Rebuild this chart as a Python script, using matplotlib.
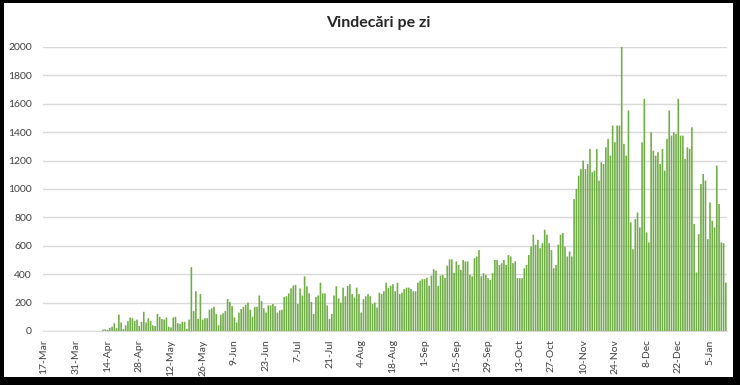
import numpy as np
import pandas as pd
import matplotlib
matplotlib.use("Agg")
import matplotlib.pyplot as plt
from matplotlib.patches import Rectangle

# vindecari zilnice, incepand cu 17-Mar
start_date = "2020-03-17"
before_apr = [0] * 26
apr_jun = [10, 12, 8, 22, 30, 55, 20, 115, 60, 15, 40, 70, 95, 90, 70, 80, 35, 65, 135, 60,
           90, 70, 40, 35, 120, 100, 85, 80, 95, 30, 25, 95, 100, 55, 50, 65, 65, 15, 80, 450,
           140, 280, 85, 260, 80, 90, 90, 150, 160, 170, 120, 40, 115, 125, 140, 225, 205, 175, 95, 60,
           130, 155, 170, 185, 200, 150, 100, 170, 170, 250, 210, 160, 130, 180]
jun_jul = [180, 190, 175, 130, 145, 150, 240, 245, 265, 300, 320, 325, 190, 300, 250, 385,
           315, 265, 205, 120, 240, 250, 340, 265, 265, 180, 85, 120, 250, 315, 230]
jul_sep = [200, 305, 245, 318, 330, 260, 235, 305, 260, 130, 225, 245, 260, 245, 190, 200, 165,
           270, 260, 280, 340, 305, 318, 330, 280, 340, 260, 270, 295, 305, 305, 295, 280, 280,
           340, 355, 365, 365, 375, 318, 390, 435, 425, 318, 390, 395, 375, 460, 505, 505]
sep_nov = [410, 490, 465, 430, 500, 490, 490, 395, 385, 513, 525, 570, 385, 407, 395, 372, 360,
           407, 500, 500, 465, 478, 500, 465, 535, 525, 478, 490, 372, 372, 372, 442, 465, 535,
           595, 678, 607, 642, 583, 618, 713, 678, 618, 570, 442, 465, 607, 678, 690, 595, 525,
           560, 525]
nov_jan = [929, 1000, 1094, 1141, 1200, 1141, 1176, 1282, 1118, 1129, 1282, 1059, 1188, 1176,
           1294, 1353, 1235, 1447, 1329, 1447, 1447, 2000, 1318, 1235, 1553, 765, 576, 788, 835,
           729, 1329, 1635, 694, 624, 1400, 1270, 1235, 1259, 1176, 1282, 1129, 1353, 1553, 1376,
           1400, 1388, 1635, 1376, 1376, 1212, 1294, 1282, 1435, 753, 412, 682, 1035, 1106, 1059,
           647, 906, 776, 729, 1165, 894, 624, 618, 341]

values = np.array(before_apr + apr_jun + jun_jul + jul_sep + sep_nov + nov_jan)
dates = pd.date_range(start_date, periods=len(values), freq="D")
labels = [f"{d.day}-{d.strftime('%b')}" for d in dates]
x = np.arange(len(values))

plt.rcParams["font.family"] = ["Lato", "DejaVu Sans"]

fig = plt.figure(figsize=(7.4, 3.85), dpi=100)
fig.patch.set_facecolor("black")
fig.patches.append(Rectangle((4 / 740, 8 / 385), 729 / 740, 374 / 385,
                             transform=fig.transFigure, facecolor="white",
                             edgecolor="none", zorder=-10))

ax = fig.add_axes([43 / 740, 54 / 385, 684 / 740, 284 / 385])
ax.set_facecolor("none")
ax.bar(x, values, width=0.72, color="#70AD47", linewidth=0, zorder=3, snap=False)

ax.set_xlim(-0.5, len(values) - 0.5)
ax.set_ylim(0, 2000)
ax.set_yticks(range(0, 2001, 200))
ax.set_xticks(x[::14])
ax.set_xticklabels(labels[::14], rotation=90)
ax.tick_params(axis="both", length=0, labelsize=7.5, colors="#404040")
ax.tick_params(axis="x", pad=6)
ax.tick_params(axis="y", pad=8)
ax.grid(axis="y", color="#D9D9D9", linewidth=1, zorder=0)
for s in ["top", "right", "left"]:
    ax.spines[s].set_visible(False)
ax.spines["bottom"].set_color("#D9D9D9")

fig.text(378 / 740, 1 - 23 / 385, "Vindecări pe zi", ha="center", va="center",
         fontsize=11.5, fontweight="bold", color="#262626")

fig.savefig("out.png", dpi=100, facecolor=fig.get_facecolor())
